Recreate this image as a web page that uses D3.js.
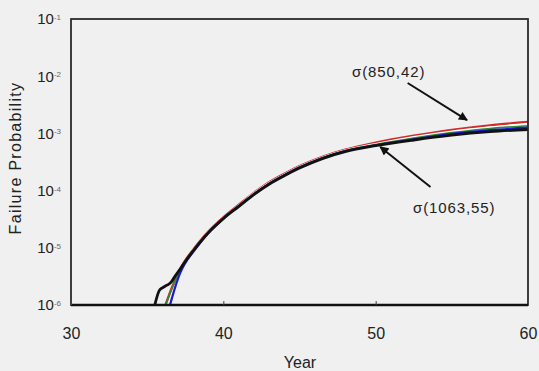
<!DOCTYPE html>
<html>
<head>
<meta charset="utf-8">
<script src="https://cdn.jsdelivr.net/npm/d3@7/dist/d3.min.js"></script>
<style>
  html, body { margin: 0; padding: 0; background: #f0f0f0; }
  svg { display: block; font-family: "Liberation Sans", Arial, sans-serif; }
</style>
</head>
<body>
<script>
// ---------- data ----------
const years     = [35.5, 35.8, 36, 36.2, 36.4, 36.5, 36.8, 37.2, 37.5, 38, 39, 40, 41, 42, 43, 44, 45, 46.5, 48, 50, 52.5, 55, 57.5, 60];
const blackVals = [1e-6, 1.8e-6, 2.0e-6, 2.15e-6, 2.3e-6, 2.4e-6, 3.1e-6, 4.4e-6, 5.75e-6, 8.7e-6, 1.82e-5, 3.24e-5, 5.25e-5, 8.5e-5, 1.29e-4, 1.82e-4, 2.48e-4, 3.63e-4, 4.79e-4, 6.1e-4, 7.67e-4, 9.3e-4, 1.07e-3, 1.17e-3];
const redVals   = [null, null, null, 1e-6, 1.4e-6, 1.66e-6, 2.6e-6, 4.4e-6, 6.0e-6, 9.1e-6, 1.9e-5, 3.4e-5, 5.6e-5, 9.1e-5, 1.4e-4, 1.97e-4, 2.68e-4, 3.9e-4, 5.2e-4, 6.9e-4, 9.1e-4, 1.15e-3, 1.38e-3, 1.58e-3];
const whiteVals = [null, null, null, null, null, null, null, null, null, 9.0e-6, 1.88e-5, 3.35e-5, 5.5e-5, 9.0e-5, 1.37e-4, 1.93e-4, 2.63e-4, 3.83e-4, 5.1e-4, 6.6e-4, 8.7e-4, 1.09e-3, 1.29e-3, 1.48e-3];
const greenVals = [null, null, null, 1e-6, 1.35e-6, 1.6e-6, 2.5e-6, 4.3e-6, 5.9e-6, 9.0e-6, 1.87e-5, 3.3e-5, 5.4e-5, 8.8e-5, 1.34e-4, 1.89e-4, 2.58e-4, 3.76e-4, 5.0e-4, 6.4e-4, 8.3e-4, 1.03e-3, 1.22e-3, 1.36e-3];
const blueVals  = [null, null, null, null, null, 1e-6, 1.9e-6, 3.8e-6, 5.4e-6, 8.3e-6, 1.8e-5, 3.24e-5, 5.3e-5, 8.6e-5, 1.31e-4, 1.85e-4, 2.53e-4, 3.69e-4, 4.9e-4, 6.2e-4, 7.9e-4, 9.8e-4, 1.14e-3, 1.26e-3];

const seriesNames  = ["red", "white", "green", "blue", "black"];
const seriesColors = ["#d42a2a", "#ffffff", "#2e8b3a", "#1a1ad0", "#111111"];
const seriesWidths = [2.4, 1.6, 1.6, 2.2, 2.8];
const seriesData   = [redVals, whiteVals, greenVals, blueVals, blackVals];

const xTicks = [30, 40, 50, 60];
const yTicks = [1e-6, 1e-5, 1e-4, 1e-3, 1e-2, 1e-1];
const yTickExp = ["-6", "-5", "-4", "-3", "-2", "-1"];

const annotations = [
  { text: "σ(850,42)",  tx: 48.45, ty: 9.7e-3, ax1: 52.1, ay1: 7.6e-3, ax2: 56.0, ay2: 1.71e-3 },
  { text: "σ(1063,55)", tx: 52.45, ty: 4.1e-5, ax1: 53.6, ay1: 1.16e-4, ax2: 50.3, ay2: 5.8e-4 }
];

// ---------- chart ----------
const W = 539, H = 371;
const svg = d3.select("body").append("svg").attr("width", W).attr("height", H);

const x = d3.scaleLinear().domain([30, 60]).range([71, 528]);
const y = d3.scaleLog().domain([1e-6, 1e-1]).range([305, 19]);

svg.append("rect").attr("width", W).attr("height", H).attr("fill", "#f0f0f0");

svg.append("defs").append("marker")
  .attr("id", "ah").attr("viewBox", "0 0 10 10").attr("refX", 9).attr("refY", 5)
  .attr("markerWidth", 5).attr("markerHeight", 4.5).attr("orient", "auto")
  .append("path").attr("d", "M0,0 L10,5 L0,10 Z").attr("fill", "#111");

// lines
const line = d3.line()
  .defined(d => d[1] != null)
  .x(d => x(d[0])).y(d => y(d[1]))
  .curve(d3.curveMonotoneX);

seriesData.forEach((vals, i) => {
  const pts = years.map((yr, j) => [yr, vals[j]]);
  svg.append("path")
    .attr("class", "series " + seriesNames[i])
    .attr("d", line(pts))
    .attr("fill", "none")
    .attr("stroke", seriesColors[i])
    .attr("stroke-width", seriesWidths[i])
    .attr("stroke-linejoin", "round");
});

// frame
svg.append("rect")
  .attr("x", x(30)).attr("y", y(1e-1))
  .attr("width", x(60) - x(30)).attr("height", y(1e-6) - y(1e-1))
  .attr("fill", "none").attr("stroke", "#2a2a2a").attr("stroke-width", 1.8);
svg.append("line")
  .attr("x1", x(30)).attr("x2", x(60)).attr("y1", y(1e-6)).attr("y2", y(1e-6))
  .attr("stroke", "#111").attr("stroke-width", 2.4);

// axes
const xAxis = d3.axisBottom(x).tickValues(xTicks).tickSize(-4).tickPadding(23).tickFormat(d3.format("d"));
const gx = svg.append("g").attr("transform", `translate(0,${y(1e-6)})`).call(xAxis);
gx.select(".domain").remove();
gx.selectAll("line").attr("stroke", "#444");
gx.selectAll("text").attr("font-size", 16).attr("fill", "#222")
  .attr("font-family", "'Liberation Sans', Arial, sans-serif");

const yAxis = d3.axisLeft(y).tickValues(yTicks).tickSize(0).tickPadding(10).tickFormat(() => "");
const gy = svg.append("g").attr("transform", `translate(${x(30)},0)`).call(yAxis);
gy.select(".domain").remove();
gy.selectAll(".tick text").each(function(d, i) {
  const t = d3.select(this)
    .attr("font-size", 15).attr("fill", "#222")
    .attr("font-family", "'Liberation Sans', Arial, sans-serif")
    .attr("text-anchor", "end");
  t.append("tspan").text("10");
  t.append("tspan").attr("dy", "-0.55em").attr("font-size", 8).attr("fill", "#666").text(yTickExp[i]);
});

// axis titles
svg.append("text")
  .attr("x", 300).attr("y", 368)
  .attr("text-anchor", "middle").attr("font-size", 16).attr("fill", "#222")
  .text("Year");
svg.append("text")
  .attr("transform", `translate(21,158) rotate(-90)`)
  .attr("text-anchor", "middle").attr("font-size", 16).attr("letter-spacing", 1.3).attr("fill", "#222")
  .text("Failure Probability");

// annotations
annotations.forEach(a => {
  svg.append("text").attr("x", x(a.tx)).attr("y", y(a.ty))
    .attr("font-size", 15).attr("letter-spacing", 0.9).attr("fill", "#222").text(a.text);
  svg.append("line")
    .attr("x1", x(a.ax1)).attr("y1", y(a.ay1))
    .attr("x2", x(a.ax2)).attr("y2", y(a.ay2))
    .attr("stroke", "#111").attr("stroke-width", 2)
    .attr("marker-end", "url(#ah)");
});
</script>
</body>
</html>
